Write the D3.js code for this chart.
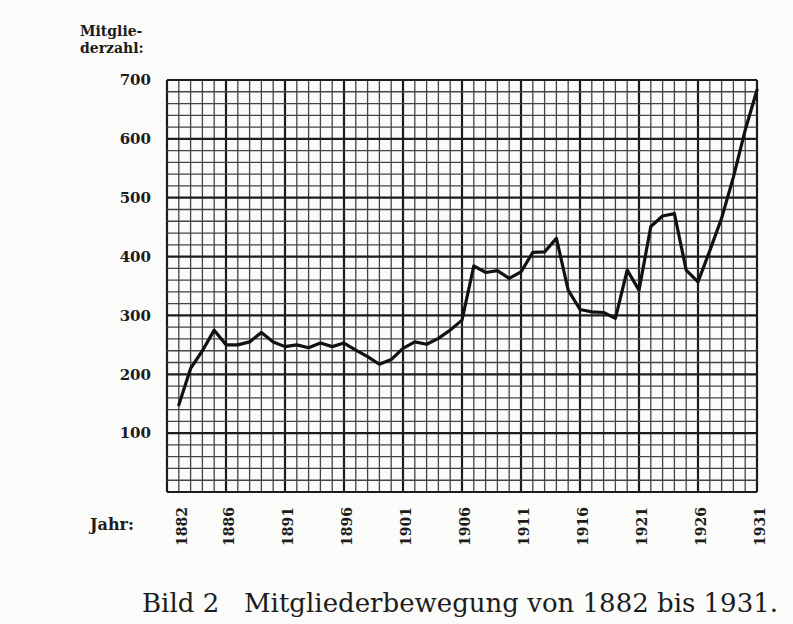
<!DOCTYPE html>
<html>
<head>
<meta charset="utf-8">
<script src="https://cdn.jsdelivr.net/npm/d3@7"></script>
<style>
  body { margin: 0; background: #fbfbf9; }
  svg { display: block; }
</style>
</head>
<body>
<svg width="793" height="624"></svg>
<script>
// Mitgliederzahl per year
const years = d3.range(1882, 1932);
const members = [
  148, 210, 240, 275, 250, 250, 255, 271, 255, 247,
  250, 245, 253, 247, 253, 241, 230, 217, 225, 244,
  255, 251, 261, 275, 292, 384, 373, 376, 363, 374,
  407, 408, 431, 343, 310, 306, 305, 295, 377, 343,
  451, 469, 473, 377, 357, 410, 465, 535, 615, 683
];

const yearTicks = [1882, 1886, 1891, 1896, 1901, 1906, 1911, 1916, 1921, 1926, 1931];
const memberTicks = [100, 200, 300, 400, 500, 600, 700];

const svg = d3.select('svg');

// plot area of the printed grid
const plotLeft = 167, plotRight = 757, plotTop = 80, plotBottom = 492;

const x = d3.scaleLinear().domain([1881, 1931]).range([plotLeft, plotRight]);
const y = d3.scaleLinear().domain([0, 700]).range([plotBottom, plotTop]);

const ink = '#1c1c1c';
const serif = '"DejaVu Serif", "Liberation Serif", serif';

// Millimetre paper grid: one column per year, one row per 20 members
const gridG = svg.append('g');

gridG.selectAll('.vline').data(d3.range(1881, 1932))
  .enter().append('line')
    .attr('class', 'vline')
    .attr('x1', d => x(d))
    .attr('x2', d => x(d))
    .attr('y1', plotTop)
    .attr('y2', plotBottom)
    .attr('stroke', d => (d - 1881) % 5 === 0 ? ink : '#444')
    .attr('stroke-width', d => (d - 1881) % 5 === 0 ? 2.2 : 1.3);

gridG.selectAll('.hline').data(d3.range(0, 720, 20))
  .enter().append('line')
    .attr('class', 'hline')
    .attr('x1', plotLeft)
    .attr('x2', plotRight)
    .attr('y1', d => y(d))
    .attr('y2', d => y(d))
    .attr('stroke', d => d % 100 === 0 ? ink : '#444')
    .attr('stroke-width', d => d % 100 === 0 ? 2.2 : 1.3);

// Member curve
const line = d3.line()
  .x((d, i) => x(years[i]))
  .y(d => y(d));

svg.append('path')
  .datum(members)
  .attr('d', line)
  .attr('fill', 'none')
  .attr('stroke', '#111')
  .attr('stroke-width', 3.2)
  .attr('stroke-linejoin', 'round')
  .attr('stroke-linecap', 'round');

// y axis labels
const yAxisG = svg.append('g')
  .attr('transform', `translate(${plotLeft},0)`)
  .call(d3.axisLeft(y).tickValues(memberTicks).tickSize(0).tickPadding(16));

yAxisG.select('.domain').remove();
yAxisG.selectAll('text')
  .attr('fill', ink)
  .style('font-family', serif)
  .style('font-size', '15px')
  .style('font-weight', 'bold');

// x axis labels, turned upright
const xAxisG = svg.append('g')
  .attr('transform', `translate(0,${plotBottom})`)
  .call(d3.axisBottom(x).tickValues(yearTicks).tickFormat(d3.format('d')).tickSize(0));

xAxisG.select('.domain').remove();
xAxisG.selectAll('text')
  .attr('transform', 'rotate(-90)')
  .attr('x', -15)
  .attr('y', 3)
  .attr('dy', '0.35em')
  .attr('fill', ink)
  .style('text-anchor', 'end')
  .style('font-family', serif)
  .style('font-size', '14px')
  .style('font-weight', 'bold');

// Axis titles
svg.append('text')
  .attr('x', 80)
  .attr('y', 36)
  .attr('fill', ink)
  .style('font-family', serif)
  .style('font-size', '14px')
  .style('font-weight', 'bold')
  .text('Mitglie-');

svg.append('text')
  .attr('x', 80)
  .attr('y', 53)
  .attr('fill', ink)
  .style('font-family', serif)
  .style('font-size', '14px')
  .style('font-weight', 'bold')
  .text('derzahl:');

svg.append('text')
  .attr('x', 90)
  .attr('y', 530)
  .attr('fill', ink)
  .style('font-family', serif)
  .style('font-size', '16px')
  .style('font-weight', 'bold')
  .text('Jahr:');

// Caption
svg.append('text')
  .attr('x', 460)
  .attr('y', 612)
  .attr('fill', ink)
  .style('text-anchor', 'middle')
  .style('white-space', 'pre')
  .style('font-family', serif)
  .style('font-size', '26px')
  .text('Bild 2   Mitgliederbewegung von 1882 bis 1931.');
</script>
</body>
</html>
